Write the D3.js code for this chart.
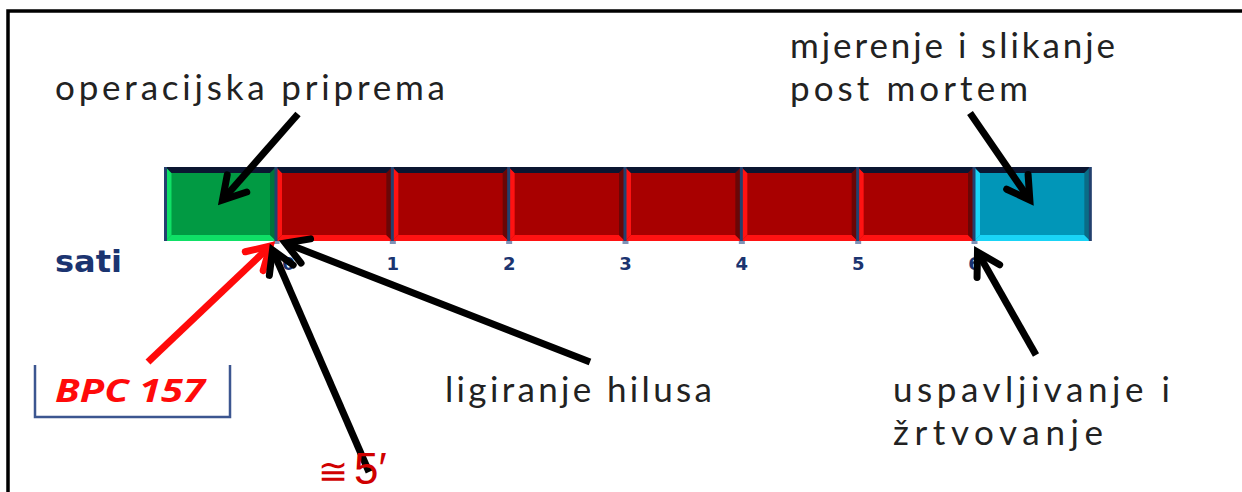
<!DOCTYPE html>
<html>
<head>
<meta charset="utf-8">
<script src="https://cdn.jsdelivr.net/npm/d3@7"></script>
<style>
  html, body { margin: 0; padding: 0; background: #fff; }
  svg { display: block; }
</style>
</head>
<body>
<div id="root"></div>
<script>
const WIDTH = 1242;
const HEIGHT = 492;

// timeline segments (hours)
const segStart = [-0.95, 0, 1, 2, 3, 4, 5, 6];
const segEnd = [0, 1, 2, 3, 4, 5, 6, 7];
const segPhase = ["prep", "isch", "isch", "isch", "isch", "isch", "isch", "post"];
const tickHours = [0, 1, 2, 3, 4, 5, 6];
const tickLabels = ["0", "1", "2", "3", "4", "5", "6"];
const axisTitle = "sati";

// annotations: text lines and the hour the arrow points at
const noteLines = [
    ["operacijska priprema"],
    ["mjerenje i slikanje", "post mortem"],
    ["BPC 157"],
    ["≅ 5′"],
    ["ligiranje hilusa"],
    ["uspavljivanje i", "žrtvovanje"]
];
const noteTipHour = [-0.46, 6.48, -0.05, -0.03, 0.08, 6.03];

const phaseColor = {
    prep: {base: "#019a43", light: "#0fe066", dark: "#00733a"},
    isch: {base: "#a80000", light: "#ff1212", dark: "#6a0606"},
    post: {base: "#0196b8", light: "#19d4f6", dark: "#0a6c86"}
};

const x = d3.scaleLinear().domain([0, 6]).range([276, 974]);
const BAR_TOP = 167, BAR_BOT = 241, BEV = 6;

const svg = d3.select("#root").append("svg")
    .attr("width", WIDTH)
    .attr("height", HEIGHT);

// outer frame, running off the right and bottom edges
svg.append("rect")
    .attr("x", 8).attr("y", 11)
    .attr("width", 1260).attr("height", 520)
    .attr("fill", "none").attr("stroke", "#000").attr("stroke-width", 3.5);

const segs = segStart.map((s, i) => ({s, e: segEnd[i], c: phaseColor[segPhase[i]]}));

const seg = svg.append("g").selectAll("g")
    .data(segs)
    .join("g");

seg.append("rect")
    .attr("x", d => x(d.s)).attr("y", BAR_TOP)
    .attr("width", d => x(d.e) - x(d.s)).attr("height", BAR_BOT - BAR_TOP)
    .attr("fill", d => d.c.base);

function poly(pts) { return pts.map(p => p.join(",")).join(" "); }

seg.append("polygon") // left bevel
    .attr("points", d => { const x0 = x(d.s); return poly([[x0, BAR_TOP], [x0 + BEV, BAR_TOP + BEV], [x0 + BEV, BAR_BOT - BEV], [x0, BAR_BOT]]); })
    .attr("fill", d => d.c.light);
seg.append("polygon") // bottom bevel
    .attr("points", d => { const x0 = x(d.s), x1 = x(d.e); return poly([[x0, BAR_BOT], [x0 + BEV, BAR_BOT - BEV], [x1 - BEV, BAR_BOT - BEV], [x1, BAR_BOT]]); })
    .attr("fill", d => d.c.light);
seg.append("polygon") // right bevel
    .attr("points", d => { const x1 = x(d.e); return poly([[x1, BAR_TOP], [x1, BAR_BOT], [x1 - BEV, BAR_BOT - BEV], [x1 - BEV, BAR_TOP + BEV]]); })
    .attr("fill", d => d.c.dark);
seg.append("polygon") // top bevel
    .attr("points", d => { const x0 = x(d.s), x1 = x(d.e); return poly([[x0, BAR_TOP], [x1, BAR_TOP], [x1 - BEV, BAR_TOP + BEV], [x0 + BEV, BAR_TOP + BEV]]); })
    .attr("fill", "#0b1631");

// separators between blocks
svg.append("g").selectAll("line")
    .data(segStart.concat([segEnd[segEnd.length - 1]]))
    .join("line")
    .attr("x1", d => x(d)).attr("x2", d => x(d))
    .attr("y1", BAR_TOP).attr("y2", BAR_BOT)
    .attr("stroke", "#23406e").attr("stroke-width", 3);

// axis
const axis = d3.axisBottom(x)
    .tickValues(tickHours)
    .tickFormat((d, i) => tickLabels[i])
    .tickSize(3)
    .tickPadding(13);

const axisG = svg.append("g")
    .attr("transform", `translate(0,${BAR_BOT})`)
    .call(axis);
axisG.select(".domain").remove();
axisG.selectAll(".tick line").attr("stroke", "#7f93b8").attr("stroke-width", 6);
axisG.selectAll(".tick text")
    .attr("fill", "#1b3470")
    .attr("font-family", "DejaVu Sans")
    .attr("font-weight", "bold")
    .attr("font-size", 18)
    .attr("dx", (d, i) => i === 0 ? 12 : 0);

svg.append("text")
    .attr("x", 55).attr("y", 272)
    .attr("fill", "#1b3470")
    .attr("font-family", "DejaVu Sans")
    .attr("font-weight", "bold")
    .attr("font-size", 30)
    .attr("textLength", 67)
    .attr("lengthAdjust", "spacingAndGlyphs")
    .text(axisTitle);

// arrow heads
const defs = svg.append("defs");
[["head-black", "#000"], ["head-red", "#ff0a0a"]].forEach(([id, col]) => {
    defs.append("marker")
        .attr("id", id)
        .attr("markerUnits", "userSpaceOnUse")
        .attr("viewBox", "-30 -20 40 40")
        .attr("refX", 0).attr("refY", 0)
        .attr("markerWidth", 40).attr("markerHeight", 40)
        .attr("orient", "auto")
        .append("path")
        .attr("d", "M-22,-13 L0,0 L-22,13")
        .attr("fill", "none")
        .attr("stroke", col)
        .attr("stroke-width", 7)
        .attr("stroke-linecap", "round")
        .attr("stroke-linejoin", "miter");
});

// layout of each annotation: text anchor, line widths, arrow tail and tip y
const noteLayout = [
    {tx: 55, ty: 100, len: [390], tail: [298, 114], tipY: 200, col: "#000"},
    {tx: 790, ty: 58, len: [325, 238], tail: [970, 113], tipY: 200, col: "#000"},
    {tx: 55, ty: 402, len: [150], tail: [148, 362], tipY: 246, col: "#ff0a0a"},
    {tx: 318, ty: 484, len: [null], tail: [369, 472], tipY: 250, col: "#000"},
    {tx: 445, ty: 402, len: [267], tail: [590, 362], tipY: 243, col: "#000"},
    {tx: 893, ty: 402, len: [277, 210], tail: [1036, 355], tipY: 252, col: "#000"}
];

const notes = noteLines.map((lines, i) => Object.assign({lines, hour: noteTipHour[i]}, noteLayout[i]));

svg.append("g").selectAll("line")
    .data(notes)
    .join("line")
    .attr("x1", d => d.tail[0]).attr("y1", d => d.tail[1])
    .attr("x2", d => x(d.hour)).attr("y2", d => d.tipY)
    .attr("stroke", d => d.col)
    .attr("stroke-width", 7)
    .attr("marker-end", d => d.col === "#000" ? "url(#head-black)" : "url(#head-red)");

// plain annotation texts
const plain = notes.filter((d, i) => i !== 2 && i !== 3);
plain.forEach(d => {
    d.lines.forEach((line, j) => {
        svg.append("text")
            .attr("x", d.tx).attr("y", d.ty + j * 43)
            .attr("fill", "#222")
            .attr("font-family", "Lato")
            .attr("font-size", 35)
            .attr("textLength", d.len[j])
            .attr("lengthAdjust", "spacing")
            .text(line);
    });
});

// BPC 157 with its bracket box
const bpc = notes[2];
svg.append("path")
    .attr("d", "M35,365 L35,417 L230,417 L230,365")
    .attr("fill", "none").attr("stroke", "#3c5690").attr("stroke-width", 2.5);
svg.append("text")
    .attr("x", bpc.tx).attr("y", bpc.ty)
    .attr("fill", "#ff0a0a")
    .attr("font-family", "Open Sans")
    .attr("font-weight", "bold")
    .attr("font-style", "italic")
    .attr("font-size", 33)
    .attr("textLength", bpc.len[0])
    .attr("lengthAdjust", "spacingAndGlyphs")
    .text(bpc.lines[0]);

// approx five minutes
const five = notes[3];
const fiveText = svg.append("text")
    .attr("x", five.tx).attr("y", five.ty)
    .attr("fill", "#d00000")
    .attr("font-family", "Liberation Sans");
const parts = five.lines[0].split(" ");
fiveText.append("tspan").attr("font-size", 36).text(parts[0]);
fiveText.append("tspan").attr("dx", 6).attr("font-size", 44).text(parts[1]);
</script>
</body>
</html>
